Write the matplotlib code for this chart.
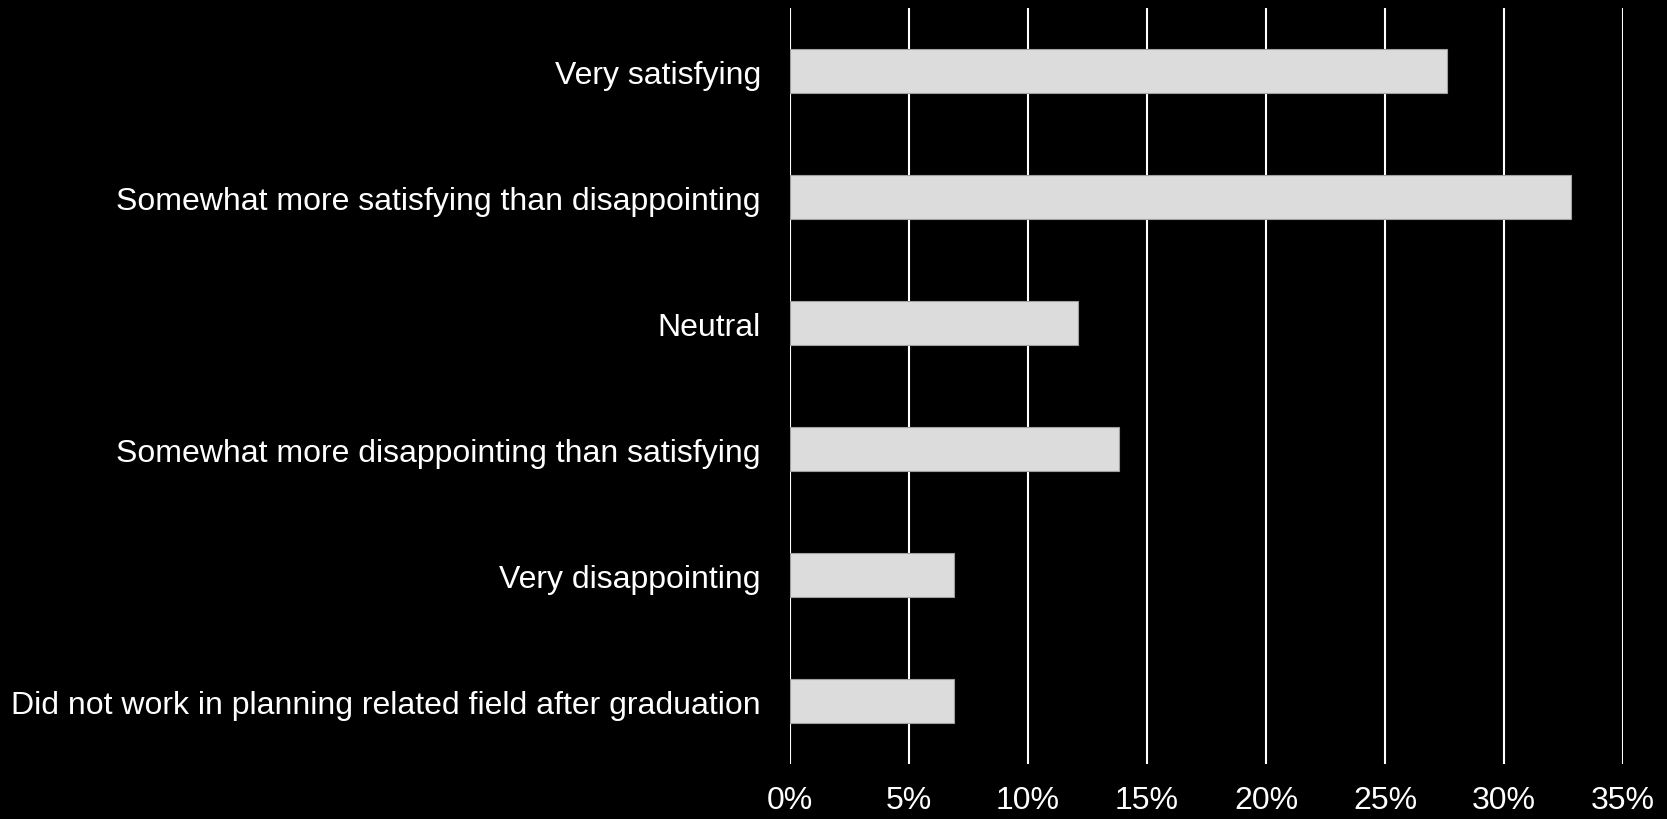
import matplotlib
matplotlib.use("Agg")
import matplotlib.pyplot as plt
from matplotlib.ticker import PercentFormatter, MultipleLocator

# ---- data ----
categories = [
    "Very satisfying",
    "Somewhat more satisfying than disappointing",
    "Neutral",
    "Somewhat more disappointing than satisfying",
    "Very disappointing",
    "Did not work in planning related field after graduation",
]
percent = [27.6, 32.8, 12.1, 13.8, 6.9, 6.9]

plt.rcParams["font.family"] = ["Liberation Sans", "DejaVu Sans"]

fig = plt.figure(figsize=(16.67, 8.2), dpi=100, facecolor="black")
ax = fig.add_axes([0.474, 0.067, 0.4996, 0.922])
ax.set_facecolor("black")

ypos = list(range(len(categories)))
ax.barh(ypos, percent, height=0.35, color="#dcdcdc", edgecolor="#a0a0a0",
        linewidth=0.8, zorder=3)

ax.set_ylim(len(categories) - 0.5, -0.5)
ax.set_xlim(0, 35)
ax.xaxis.set_major_locator(MultipleLocator(5))
ax.xaxis.set_major_formatter(PercentFormatter(decimals=0))
ax.set_yticks(ypos)
ax.set_yticklabels(categories)

ax.grid(axis="x", color="white", linewidth=1.5, zorder=1)
for s in ax.spines.values():
    s.set_visible(False)

ax.tick_params(axis="both", length=0, colors="white", labelsize=23)
ax.tick_params(axis="y", pad=21)
ax.tick_params(axis="x", pad=15)

fig.savefig("out.png", dpi=100, facecolor="black")
